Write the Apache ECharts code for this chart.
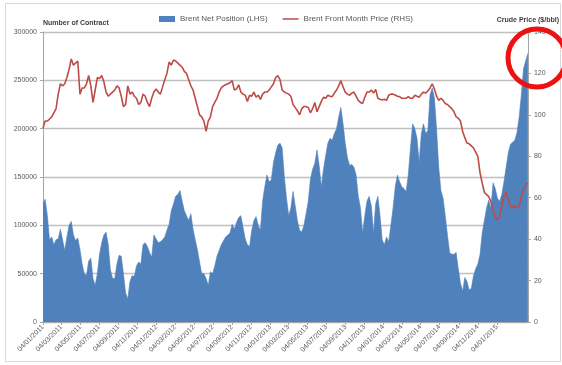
<!DOCTYPE html>
<html><head><meta charset="utf-8">
<script src="https://cdn.jsdelivr.net/npm/echarts@6/dist/echarts.min.js"></script>
<style>html,body{margin:0;padding:0;background:#fff}#c{width:562px;height:365px}</style>
</head><body><div id="c"></div>
<script>
// Weekly observations (Tuesdays) starting 04/01/2011
const firstWeek = '04/01/2011';

const xTickLabels = [
  '04/01/2011','04/03/2011','04/05/2011','04/07/2011','04/09/2011','04/11/2011',
  '04/01/2012','04/03/2012','04/05/2012','04/07/2012','04/09/2012','04/11/2012',
  '04/01/2013','04/03/2013','04/05/2013','04/07/2013','04/09/2013','04/11/2013',
  '04/01/2014','04/03/2014','04/05/2014','04/07/2014','04/09/2014','04/11/2014',
  '04/01/2015','04/03/2015'
];

const netPosition = [
  122000,127000,110000,85000,88000,80000,85000,86000,96000,85000,
  74000,88000,100000,104000,90000,84000,87000,75000,60000,50000,
  48000,63000,66000,45000,38000,50000,70000,82000,90000,93000,
  80000,54000,45000,45000,60000,69000,68000,50000,30000,24000,
  42000,48000,47000,58000,62000,60000,
  80000,82000,78000,72000,67000,90000,86000,82000,83000,85000,
  88000,95000,101000,115000,122000,130000,132000,136000,125000,115000,
  110000,105000,112000,96000,85000,75000,62000,50000,50000,45000,
  38000,52000,50000,58000,68000,74000,80000,84000,88000,90000,
  92000,101000,96000,103000,108000,110000,98000,86000,80000,78000,
  95000,105000,109000,100000,95000,125000,140000,152000,145000,147000,
  165000,175000,183000,
  185000,180000,150000,128000,110000,118000,135000,120000,105000,95000,
  93000,100000,112000,125000,148000,158000,164000,178000,162000,140000,
  158000,172000,185000,190000,188000,195000,200000,212000,222000,205000,
  185000,170000,162000,163000,160000,152000,130000,118000,92000,110000,
  125000,130000,120000,92000,122000,130000,110000,85000,80000,88000,
  83000,100000,118000,140000,152000,145000,140000,138000,135000,152000,
  180000,205000,200000,
  190000,165000,195000,205000,195000,198000,235000,242000,232000,200000,
  160000,136000,128000,110000,90000,72000,70000,70000,72000,55000,
  40000,32000,46000,42000,33000,35000,48000,55000,60000,70000,
  92000,105000,118000,126000,118000,144000,138000,128000,125000,132000,
  145000,160000,175000,184000,186000,188000,196000,212000,235000,262000,
  270000,278000
];

const brentPrice = [
  93.5,97,97,98,99,101,103,110,115,114,
  115,118,122,127,124,125,126,110,113,113,
  115,119,114,106,112,118,117.5,119,116,111,
  109,110,111,112,114,113,109,104,105,114,
  110,111,109,108,105,106,
  110,109,106,104,108,111,112.5,111,110,113.5,
  117,120,125.5,124,126.5,126,125,124,123,121,
  120,117,114,112,108,104,100,99,97,92,
  97,99,104,106,108,111,113,114,114.5,115,
  115.5,116.5,112,112.5,114.5,111,110,109.5,106.5,109.5,
  109,111,108.5,109.5,107.5,110,111,111,112,113.5,
  115,118,119,
  117,112,111,110.5,110,109,105,103.5,102,100,
  103,104,104,103.5,101,103,106,101.5,104,106.5,
  108.5,108,109.5,109,108.8,110.5,112,114,116.5,113.5,
  111,110,109.5,110.5,111,109,107,106,105.5,108.5,
  111,111,112,110.5,112.3,108,107.5,107.2,107.5,107,
  109.5,110,110,109.6,109,108.8,108,108,108,108.8,
  108,108,109.5,
  109,108.5,110,111,110.5,111.5,113,115,112.5,109,
  107,108,107,105.5,105,104,103,101.5,99,98.4,
  97,92,89,86.4,86,85,84,82,80,72,
  67,62.5,61.5,60.5,58,54,50.5,49.5,51,56,
  61,62.5,59,56,55.5,56,55,56,61,64,
  66,67
];

function parseDMY(s) {
  const p = s.split('/');
  return new Date(+p[2], +p[1] - 1, +p[0]).getTime();
}
const start = parseDMY(firstWeek);
const startD = new Date(start);
const weekTimes = netPosition.map((_, i) =>
  new Date(startD.getFullYear(), startD.getMonth(), startD.getDate() + 7 * i).getTime());
const tickTimes = xTickLabels.map(parseDMY);
function labelFor(v) {
  let best = 0, bd = Infinity;
  tickTimes.forEach((t, i) => { const d = Math.abs(t - v); if (d < bd) { bd = d; best = i; } });
  return bd < 86400000 ? xTickLabels[best] : '';
}

const FONT = 'Liberation Sans';
const GRAY = '#595959';
const AXIS = '#a6a6a6';

const chart = echarts.init(document.getElementById('c'), null, { renderer: 'canvas' });
chart.setOption({
  backgroundColor: '#ffffff',
  animation: false,
  textStyle: { fontFamily: FONT },
  grid: { left: 43, right: 25, top: 32, bottom: 43, containLabel: false },
  legend: {
    top: 10, left: 154, itemWidth: 16, itemHeight: 6, itemGap: 15,
    textStyle: { fontSize: 8, color: GRAY, fontFamily: FONT },
    data: [
      { name: 'Brent Net Position (LHS)', icon: 'rect' },
      { name: 'Brent Front Month Price (RHS)', icon: 'path://M0,0h32v3h-32z' }
    ]
  },
  xAxis: {
    type: 'value',
    min: weekTimes[0],
    max: weekTimes[weekTimes.length - 1],
    axisLine: { show: true, onZero: false, lineStyle: { color: AXIS, width: 1 } },
    axisTick: { show: true, customValues: tickTimes, length: 3, lineStyle: { color: AXIS } },
    axisLabel: {
      customValues: tickTimes,
      formatter: v => labelFor(v),
      rotate: 45, fontSize: 7, color: GRAY, margin: 4, fontFamily: FONT,
      showMinLabel: true, showMaxLabel: false
    },
    splitLine: { show: false }
  },
  yAxis: [
    {
      type: 'value', min: 0, max: 300000, interval: 50000, position: 'left',
      name: 'Number of Contract', nameLocation: 'end', nameGap: 5,
      nameTextStyle: { fontSize: 7, fontWeight: 'bold', color: '#404040', align: 'left', fontFamily: FONT },
      axisLine: { show: true, lineStyle: { color: AXIS } },
      axisTick: { show: true, length: 3, lineStyle: { color: AXIS } },
      axisLabel: { fontSize: 7, color: GRAY, margin: 6, fontFamily: FONT, formatter: v => String(v) },
      splitLine: { show: true, lineStyle: { color: '#c0c0c0', width: 1.4 } }
    },
    {
      type: 'value', min: 0, max: 140, interval: 20, position: 'right',
      name: 'Crude Price ($/bbl)', nameLocation: 'end', nameGap: 8,
      nameTextStyle: { fontSize: 7, fontWeight: 'bold', color: '#404040', align: 'center', fontFamily: FONT },
      axisLine: { show: true, lineStyle: { color: AXIS } },
      axisTick: { show: true, length: 3, lineStyle: { color: AXIS } },
      axisLabel: { fontSize: 7, color: GRAY, margin: 6, fontFamily: FONT, formatter: v => String(v) },
      splitLine: { show: false }
    }
  ],
  series: [
    {
      name: 'Brent Net Position (LHS)', type: 'line', yAxisIndex: 0,
      data: weekTimes.map((t, i) => [t, netPosition[i]]),
      symbol: 'none', smooth: false,
      lineStyle: { width: 0.6, color: '#4f81bd' },
      itemStyle: { color: '#4f81bd' },
      areaStyle: { color: '#4f81bd', opacity: 1 },
      z: 2
    },
    {
      name: 'Brent Front Month Price (RHS)', type: 'line', yAxisIndex: 1,
      data: weekTimes.map((t, i) => [t, brentPrice[i]]),
      symbol: 'none', smooth: false,
      lineStyle: { width: 1.6, color: '#be4b48' },
      itemStyle: { color: '#be4b48' },
      z: 3
    }
  ],
  graphic: [
    {
      type: 'rect', silent: true, z: -1,
      shape: { x: 5.5, y: 3.5, width: 555, height: 358 },
      style: { fill: 'none', stroke: '#d9d9d9', lineWidth: 1 }
    },
    {
      type: 'circle', silent: true, z: 100,
      shape: { cx: 537, cy: 58, r: 29 },
      style: { fill: 'none', stroke: '#ee1111', lineWidth: 5 }
    }
  ]
});
</script>
</body></html>
